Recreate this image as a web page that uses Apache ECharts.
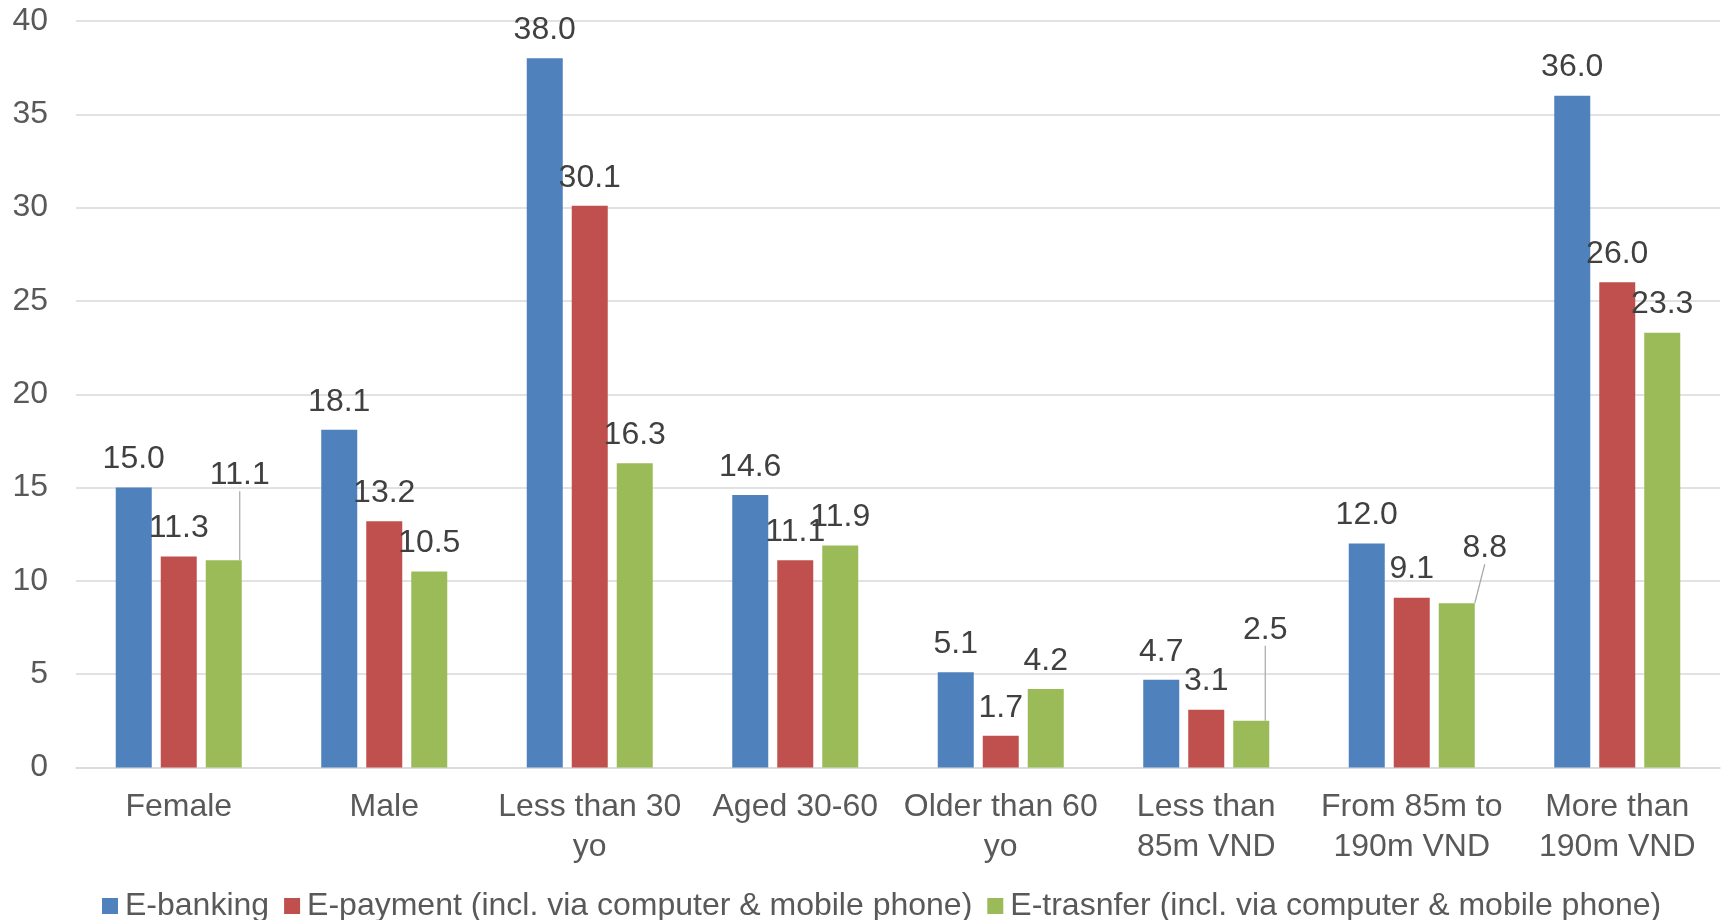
<!DOCTYPE html>
<html>
<head>
<meta charset="utf-8">
<title>E-banking, E-payment and E-transfer usage by group</title>
<script src="https://cdn.jsdelivr.net/npm/echarts@6/dist/echarts.min.js"></script>
<style>
  html, body { margin: 0; padding: 0; background: #ffffff; }
  #chart { width: 1721px; height: 920px; }
</style>
</head>
<body>
<div id="chart"></div>
<script>
// Groups along the x axis
const categories = [
  'Female', 'Male', 'Less than 30\nyo', 'Aged 30-60', 'Older than 60\nyo',
  'Less than\n85m VND', 'From 85m to\n190m VND', 'More than\n190m VND'
];

// Series names
const seriesNames = [
  'E-banking',
  'E-payment (incl. via computer & mobile phone)',
  'E-trasnfer (incl. via computer & mobile phone)'
];

// Values per series
const eBanking  = [15.0, 18.1, 38.0, 14.6, 5.1, 4.7, 12.0, 36.0];
const ePayment  = [11.3, 13.2, 30.1, 11.1, 1.7, 3.1, 9.1, 26.0];
const eTransfer = [11.1, 10.5, 16.3, 11.9, 4.2, 2.5, 8.8, 23.3];

// Y axis ticks
const yTicks = [0, 5, 10, 15, 20, 25, 30, 35, 40];

const colors = ['#4F81BD', '#C0504D', '#9BBB59'];
const FONT = '"Liberation Sans", Arial, sans-serif';
const FS = 32;

// A few crowded value labels are lifted aside and tied back with a leader line
const labelShift = {
  '2-0': { dx: 16, dy: -57 },
  '2-5': { dx: 14, dy: -63 },
  '2-6': { dx: 28, dy: -27 }
};

function makeSeries(name, values, idx) {
  const data = values.map((v, i) => {
    const moved = labelShift[idx + '-' + i];
    return moved ? { value: v, labelLine: { show: true } } : v;
  });
  return {
    name: name,
    type: 'bar',
    data: data,
    barWidth: 36,
    barGap: '25%',
    itemStyle: { color: colors[idx] },
    label: {
      show: true,
      position: 'top',
      distance: 12,
      fontFamily: FONT,
      fontSize: FS,
      color: '#404040',
      formatter: p => Number(p.value).toFixed(1)
    },
    labelLine: {
      show: false,
      lineStyle: { color: '#A6A6A6', width: 1.2 }
    },
    labelLayout: p => labelShift[idx + '-' + p.dataIndex] || {}
  };
}

const chart = echarts.init(document.getElementById('chart'), null, { renderer: 'canvas' });
chart.setOption({
  animation: false,
  backgroundColor: '#ffffff',
  color: colors,
  grid: { left: 76, right: 1, top: 21, bottom: 152.5, containLabel: false },
  legend: {
    data: seriesNames,
    left: 97,
    top: 885,
    itemWidth: 16,
    itemHeight: 16,
    itemGap: 15,
    icon: 'rect',
    textStyle: {
      fontFamily: FONT,
      fontSize: FS,
      color: '#595959',
      padding: [0, 0, 0, 2]
    }
  },
  xAxis: {
    type: 'category',
    data: categories,
    axisTick: { show: false },
    axisLine: { show: true, lineStyle: { color: '#D9D9D9', width: 1.5 } },
    axisLabel: {
      fontFamily: FONT,
      fontSize: FS,
      color: '#595959',
      lineHeight: 40,
      margin: 20,
      interval: 0
    }
  },
  yAxis: {
    type: 'value',
    min: yTicks[0],
    max: yTicks[yTicks.length - 1],
    interval: yTicks[1] - yTicks[0],
    axisLine: { show: false },
    axisTick: { show: false },
    splitLine: { lineStyle: { color: '#D9D9D9', width: 1.5 } },
    axisLabel: {
      fontFamily: FONT,
      fontSize: FS,
      color: '#595959',
      margin: 28
    }
  },
  series: [
    makeSeries(seriesNames[0], eBanking, 0),
    makeSeries(seriesNames[1], ePayment, 1),
    makeSeries(seriesNames[2], eTransfer, 2)
  ]
});
</script>
</body>
</html>
